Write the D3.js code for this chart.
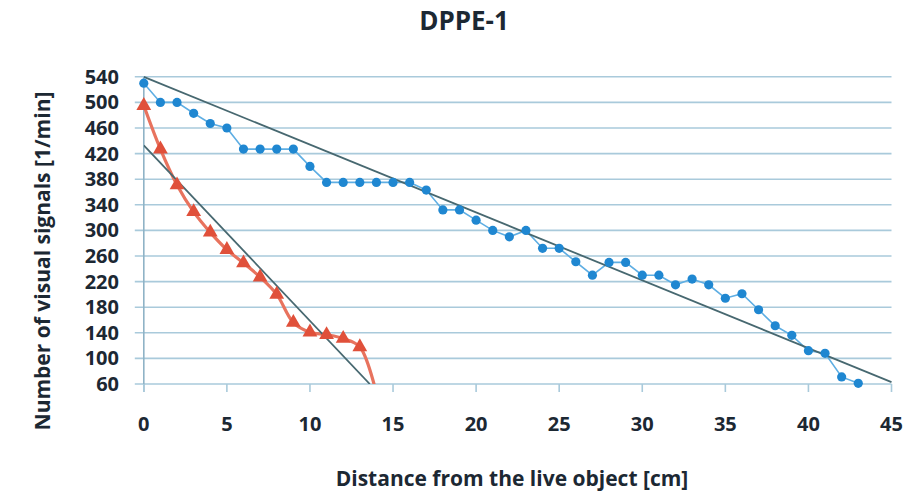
<!DOCTYPE html>
<html>
<head>
<meta charset="utf-8">
<script src="https://cdn.jsdelivr.net/npm/d3@7"></script>
<style>
  body { margin: 0; background: #fff; }
  text { font-family: "Open Sans", "Noto Sans", sans-serif; font-weight: 700; fill: #1c2833; }
</style>
</head>
<body>
<div id="chart"></div>
<script>
// datos
const blueX = d3.range(0, 44)
const blueY = [530, 500, 500, 483, 467, 460, 427, 427, 427, 427, 400, 375, 375, 375, 375, 375, 375, 363, 332, 332,
  316, 300, 290, 300, 272, 272, 251, 230, 250, 250, 230, 230, 215, 224, 215, 194, 201, 176, 151, 136,
  112, 108, 71, 61]
const redX = [0, 1, 2, 3, 4, 5, 6, 7, 8, 9, 10, 11, 12, 13, 14]
const redY = [495, 427, 371, 329, 297, 270, 249, 227, 200, 156, 141, 137, 131, 118, 45]
const blueTrend = [[0, 540], [45, 63]]
const redTrend = [[0, 433], [13.6, 60]]
const xTicks = [0, 5, 10, 15, 20, 25, 30, 35, 40, 45]
const yTicks = [60, 100, 140, 180, 220, 260, 300, 340, 380, 420, 460, 500, 540]

const width = 907
const height = 493
const plot = { left: 143.8, right: 891.5, top: 76.8, bottom: 384 }

const svg = d3.select("#chart").append("svg").attr("width", width).attr("height", height)

const x = d3.scaleLinear().domain([0, 45]).range([plot.left, plot.right])
const y = d3.scaleLinear().domain([60, 540]).range([plot.bottom, plot.top])

svg.append("defs").append("clipPath").attr("id", "clip")
  .append("rect")
  .attr("x", plot.left).attr("y", plot.top - 10)
  .attr("width", plot.right - plot.left + 10).attr("height", plot.bottom - plot.top + 10)

// rejilla horizontal
svg.append("g").selectAll("line").data(yTicks).join("line")
  .attr("x1", plot.left - 9).attr("x2", plot.right)
  .attr("y1", d => y(d)).attr("y2", d => y(d))
  .attr("stroke", "#a9cadb").attr("stroke-width", 1.6)

// eje vertical
svg.append("line")
  .attr("x1", plot.left).attr("x2", plot.left)
  .attr("y1", plot.top).attr("y2", plot.bottom + 8)
  .attr("stroke", "#8fb3c6").attr("stroke-width", 1.6)

// ticks del eje x
svg.append("g").selectAll("line").data(xTicks).join("line")
  .attr("x1", d => x(d)).attr("x2", d => x(d))
  .attr("y1", plot.bottom).attr("y2", plot.bottom + 8)
  .attr("stroke", "#a9cadb").attr("stroke-width", 1.6)

// etiquetas
svg.append("g").selectAll("text").data(yTicks).join("text")
  .attr("x", 119).attr("y", d => y(d) + 7)
  .attr("text-anchor", "end").attr("font-size", 20)
  .text(d => d)

svg.append("g").selectAll("text").data(xTicks).join("text")
  .attr("x", d => x(d)).attr("y", 431)
  .attr("text-anchor", "middle").attr("font-size", 20)
  .text(d => d)

svg.append("text").attr("x", 464).attr("y", 30)
  .attr("text-anchor", "middle").attr("font-size", 26)
  .text("DPPE-1")

svg.append("text").attr("x", 512).attr("y", 486)
  .attr("text-anchor", "middle").attr("font-size", 21)
  .text("Distance from the live object [cm]")

svg.append("text")
  .attr("transform", "translate(50,261) rotate(-90)")
  .attr("text-anchor", "middle").attr("font-size", 21)
  .text("Number of visual signals [1/min]")

const line = d3.line().x(d => x(d[0])).y(d => y(d[1]))

// serie azul
const blue = blueX.map((d, i) => [d, blueY[i]])
svg.append("path").datum(blue)
  .attr("d", line)
  .attr("fill", "none").attr("stroke", "#5eaee3").attr("stroke-width", 1.6)

// serie roja (suavizada)
const red = redX.map((d, i) => [d, redY[i]])
svg.append("path").datum(red)
  .attr("clip-path", "url(#clip)")
  .attr("d", d3.line().x(d => x(d[0])).y(d => y(d[1])).curve(d3.curveCatmullRom))
  .attr("fill", "none").attr("stroke", "#e8735e").attr("stroke-width", 3.2)

// lineas de tendencia
svg.append("g").attr("clip-path", "url(#clip)").selectAll("path")
  .data([blueTrend, redTrend]).join("path")
  .attr("d", line)
  .attr("fill", "none").attr("stroke", "#476870").attr("stroke-width", 1.8)

svg.append("g").selectAll("circle").data(blue).join("circle")
  .attr("cx", d => x(d[0])).attr("cy", d => y(d[1])).attr("r", 4.6)
  .attr("fill", "#1f87d1")

const tri = d3.symbol().type(d3.symbolTriangle).size(95)
svg.append("g").selectAll("path").data(red.filter(d => d[1] >= 60)).join("path")
  .attr("transform", d => `translate(${x(d[0])},${y(d[1])})`)
  .attr("d", tri)
  .attr("fill", "#e0503a")
</script>
</body>
</html>
